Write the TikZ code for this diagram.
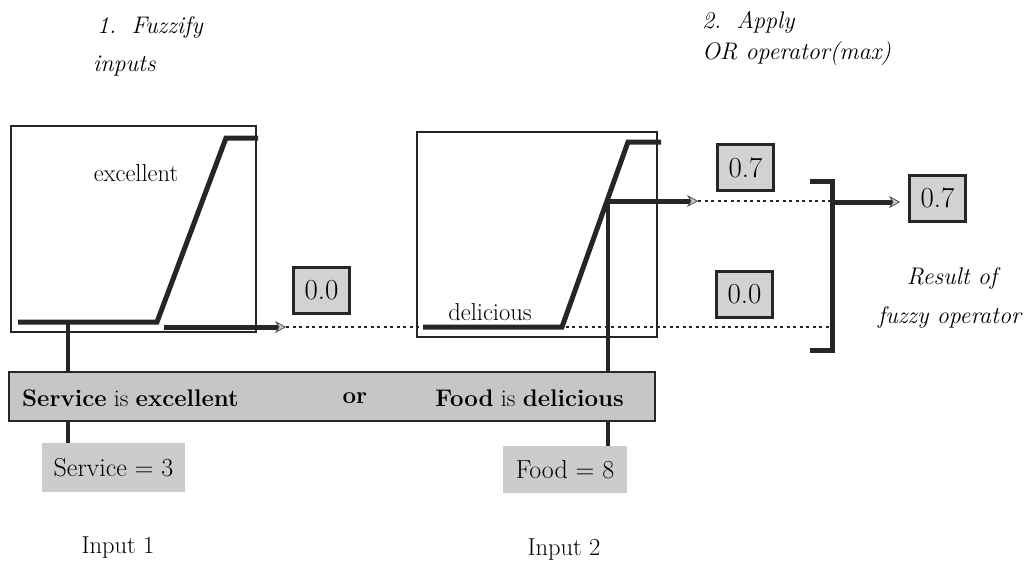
\documentclass[tikz,border=0pt]{standalone}
\usepackage{fontspec}
\setmainfont{Latin Modern Roman}
\usetikzlibrary{arrows.meta}
\pgfdeclarelayer{bg}
\pgfsetlayers{bg,main}
\begin{document}
\begin{tikzpicture}[x=1pt,y=-1pt,
  frame/.style={draw=black!85,line width=1.3pt},
  mf/.style={line width=5pt,line join=miter,draw=black!85},
  feed/.style={line width=4pt,draw=black!85},
  thickarrow/.style={line width=5pt,draw=black!85,-{Stealth[length=11pt,width=12pt,fill=gray!40,color=black!70,line width=0.8pt]}},
  dots/.style={line width=1.4pt,draw=black!85,dash pattern=on 3pt off 3.5pt},
  numbox/.style={draw=black!85,line width=3pt,fill=gray!35,minimum width=56pt,minimum height=46pt,inner sep=0pt,font=\fontsize{29}{29}\selectfont},
  inbox/.style={fill=gray!40,inner sep=0pt,font=\fontsize{26}{26}\selectfont},
  title/.style={anchor=west,inner sep=0pt,font=\fontsize{24}{26}\selectfont\itshape},
  lbl/.style={inner sep=0pt,font=\fontsize{24.5}{26}\selectfont},
  bartxt/.style={inner sep=0pt,font=\fontsize{24}{26}\selectfont}
]
\useasboundingbox (0,0) rectangle (1036,566);

% titles
\node[title] (t1) at (97,27) {1.\, Fuzzify};
\node[title] (t2) at (93,66) {inputs};
\node[title] (t3) at (702,22) {2.\, Apply};
\node[title] (t4) at (702,54) {OR operator(max)};

% membership function frames
\node[frame,minimum width=245pt,minimum height=206pt,inner sep=0pt] (box1) at (133.5,229) {};
\node[frame,minimum width=240pt,minimum height=205pt,inner sep=0pt] (box2) at (537,234.5) {};
\node[lbl] (exc) at (136,173) {excellent};
\node[lbl] (del) at (490,312) {delicious};

% membership curves
\coordinate (a1) at (18,322); \coordinate (a2) at (157,322);
\coordinate (a3) at (226,138); \coordinate (a4) at (258,138);
\coordinate (b1) at (423,327); \coordinate (b2) at (562,327);
\coordinate (b3) at (628,142); \coordinate (b4) at (661,142);
\coordinate (in1) at (68,322);
\coordinate (in2) at (608,201);

% bar and input boxes
\node[draw=black!85,line width=1.5pt,fill=gray!45,minimum width=646pt,minimum height=49pt,inner sep=0pt] (bar) at (332,396.5) {};
\node[bartxt,anchor=west] (r1) at (22,398) {\textbf{Service} is \textbf{excellent}};
\node[bartxt] (r2) at (355,398) {\textbf{or}};
\node[bartxt,anchor=east] (r3) at (624,398) {\textbf{Food} is \textbf{delicious}};
\node[inbox,minimum width=143pt,minimum height=49pt] (s3) at (113.5,467.5) {Service = 3};
\node[inbox,minimum width=124pt,minimum height=47pt] (f8) at (565,469.5) {Food = 8};
\node[lbl] (i1) at (118,548) {Input 1};
\node[lbl] (i2) at (564,550) {Input 2};

\begin{pgfonlayer}{bg}
\draw[feed] (in1) -- (in1 |- s3.north);
\draw[feed] (in2) -- (in2 |- f8.north);
\end{pgfonlayer}

\draw[mf] (a1) -- (a2) -- (a3) -- (a4);

% number boxes
\node[numbox] (n1) at (321.5,290) {0.0};
\node[numbox] (n2) at (745.5,167.5) {0.7};
\node[numbox] (n3) at (744.5,294.5) {0.0};
\node[numbox] (res) at (937.5,198) {0.7};

% bracket
\coordinate (k1) at (810,181); \coordinate (k2) at (832,181);
\coordinate (k3) at (832,350); \coordinate (k4) at (810,350);
\coordinate (ko) at (832,202);

% dotted lines
\coordinate (p1s) at (164,327); \coordinate (p1e) at (286,327);
\coordinate (p2e) at (698,201);
\draw[dots] (p1e) -- (p1e -| k2);
\draw[dots] (p2e) -- (p2e -| k2);

\draw[mf] (b1) -- (b2) -- (b3) -- (b4);
\draw[thickarrow] (p1s) -- (p1e);
\draw[thickarrow] (in2) -- (p2e);
\draw[mf] (k1) -- (k2) -- (k3) -- (k4);
\draw[thickarrow,shorten >=8pt] (ko) -- (ko -| res.west);

\node[lbl,font=\fontsize{24}{26}\selectfont\itshape] (rs1) at (952,278) {Result of};
\node[lbl,font=\fontsize{24}{26}\selectfont\itshape] (rs2) at (949.5,317) {fuzzy operator};
\end{tikzpicture}
\end{document}
